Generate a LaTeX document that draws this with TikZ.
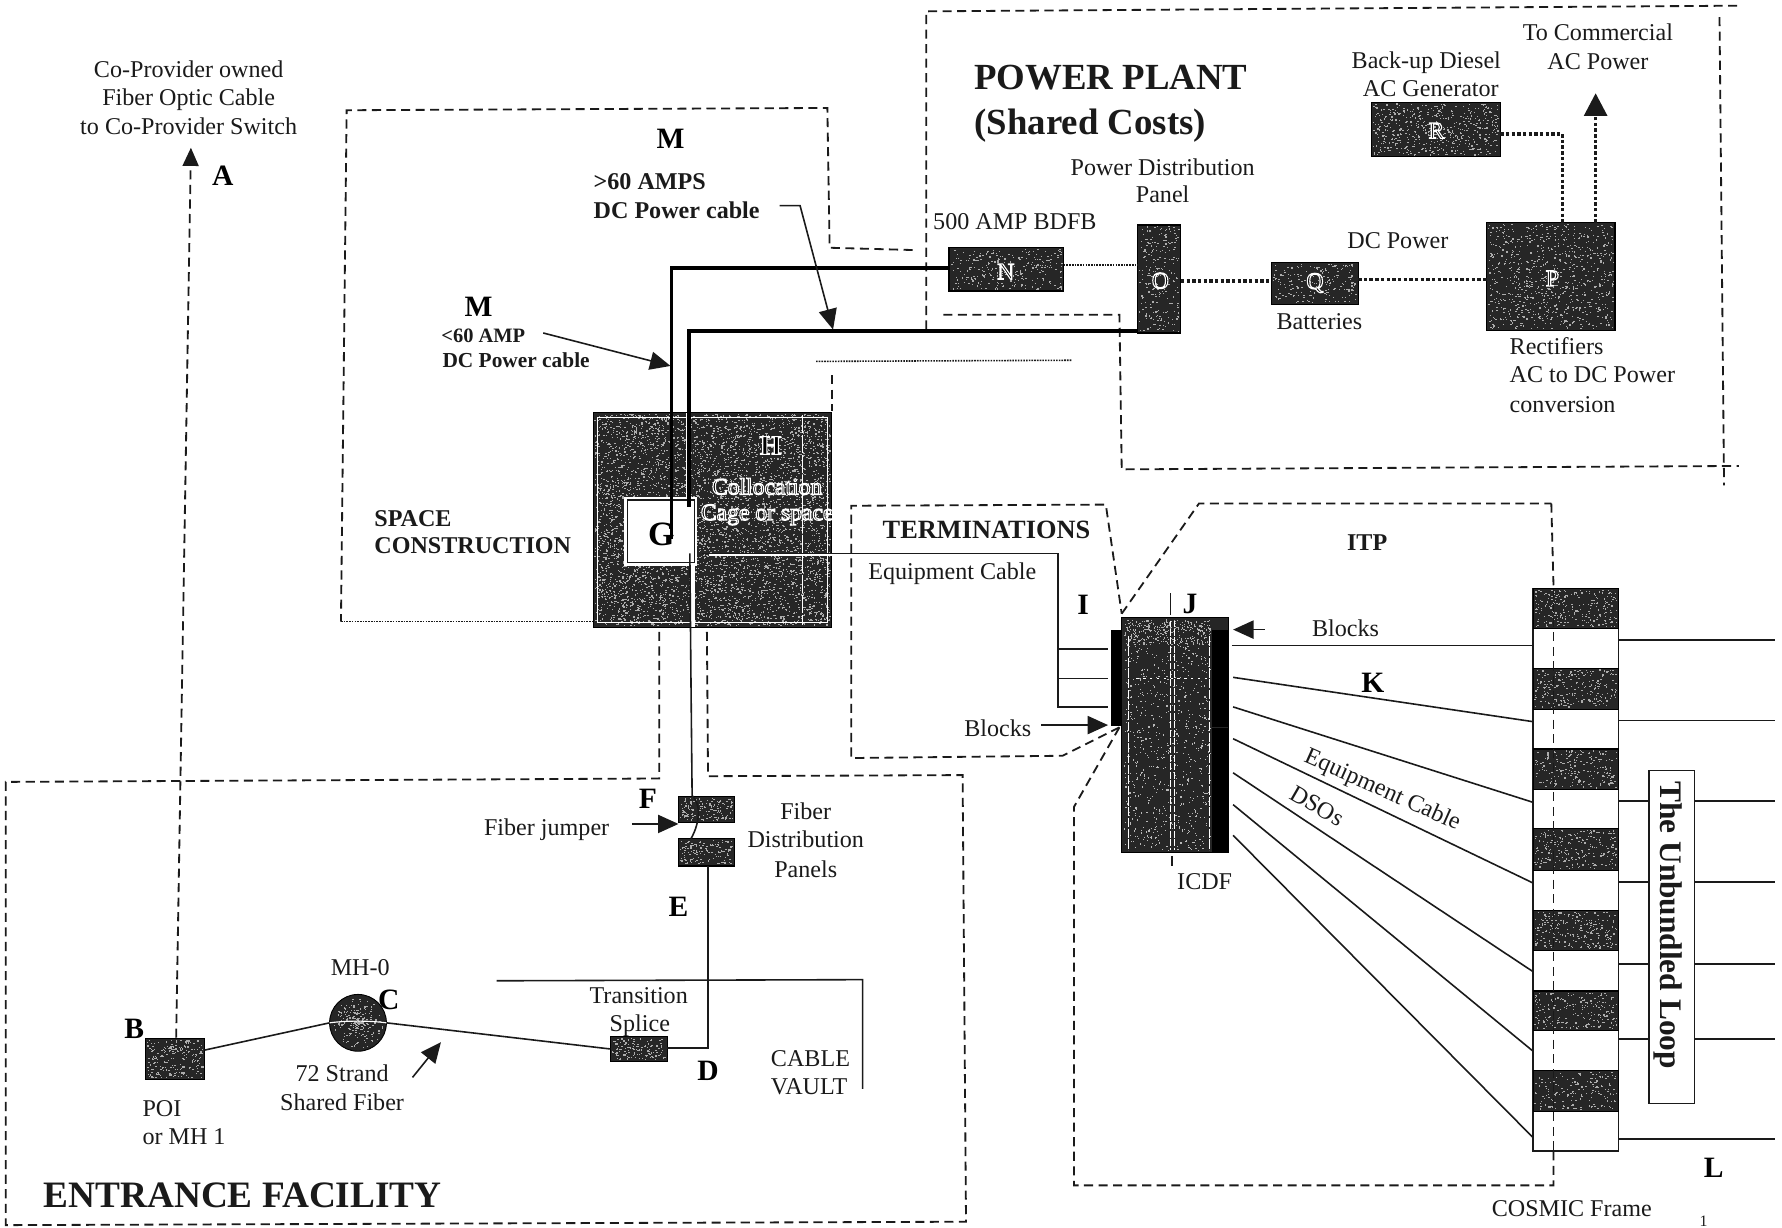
\documentclass[tikz,border=0pt]{standalone}
\usepackage{fontspec}
\setmainfont{Liberation Serif}
\usetikzlibrary{arrows.meta,calc}
\definecolor{ink}{HTML}{1A1A1A}
\definecolor{darkfill}{HTML}{262626}
\newcommand\halotxt[1]{\special{pdf:code q 2 Tr 0.5 w 1 1 1 RG}#1\special{pdf:code Q}}
% name, x0, y0, x1, y1, speck count
\newcommand\darkbox[6]{%
  \pgfmathsetmacro\bw{(#4-#2)*0.5}\pgfmathsetmacro\bh{(#5-#3)*0.5}%
  \node[dbox,minimum width=\bw pt,minimum height=\bh pt] (#1) at ({(#2+#4)/2},{(#3+#5)/2}) {};
  \foreach \i in {1,...,#6}{%
    \pgfmathsetmacro\sa{#2+1+rnd*(#4-#2-3)}\pgfmathsetmacro\sb{#3+1+rnd*(#5-#3-3)}%
    \fill[gray!65] (\sa,\sb) rectangle +(1.2,1.0);
  }%
}
\tikzset{
  dbox/.style={rectangle,draw=black,fill=darkfill,line width=0.5pt,inner sep=0pt,outer sep=0pt},
  wbox/.style={rectangle,draw=ink,fill=white,line width=0.7pt,inner sep=0pt,outer sep=0pt},
  dsh/.style={draw=ink,line width=0.8pt,dash pattern=on 4pt off 2.4pt},
  dot/.style={draw=ink,line width=0.7pt,dash pattern=on 0.7pt off 0.5pt},
  hdot/.style={draw=ink,line width=1.6pt,dash pattern=on 1.5pt off 1pt},
  thinl/.style={draw=ink,line width=0.7pt},
  cable/.style={draw=black,line width=1.6pt},
  arr/.style={draw=ink,line width=0.7pt,-{Triangle[length=9pt,width=8pt]}},
  lab/.style={font=\fontsize{10.6}{12}\selectfont,inner sep=0pt,text=ink,text height=0.82em,text depth=0.12em},
  bld/.style={font=\fontsize{10.6}{12}\selectfont\bfseries,inner sep=0pt,text=ink,text height=0.82em,text depth=0.12em},
  let/.style={font=\fontsize{13}{14}\selectfont\bfseries,inner sep=0pt,text=black},
  hal/.style={font=\fontsize{10.4}{12}\selectfont,inner sep=0pt,text=black},
}
\begin{document}
\begin{tikzpicture}[x=0.5pt,y=-0.5pt]
\useasboundingbox (0,0) rectangle (1568,1080);
\pgfmathsetseed{4242}
% ---- dashed regions ----
\draw[dsh] (815,290) -- (815,10) -- (1530,5);
\draw[dsh] (1513,15) -- (1517,427);
\draw[dsh] (830,277) -- (985,277) -- (987,413) -- (1530,410);
\draw[dsh] (803,220) -- (730,218) -- (728,95) -- (305,97) -- (300,547);
\draw[dot] (300,547) -- (522,547);
\draw[dot] (718,318) -- (943,317);
\draw[dsh] (732,330) -- (732,362);
\draw[dsh] (580,556) -- (580,685) -- (5,688) -- (5,1078) -- (850,1075) -- (847,682) -- (623,683) -- (622,556);
\draw[dsh] (985,640) -- (935,665) -- (749,667) -- (749,445) -- (973,444) -- (987,540);
\draw[dsh] (987,540) -- (1055,443) -- (1365,443);
\draw[dsh] (1365,443) -- (1367,518);
\draw[dsh] (1367,1013) -- (1367,1043) -- (945,1043) -- (945,710) -- (985,640);
% ---- dark boxes ----
\darkbox{H}{522}{363}{732}{552}{5000}
\darkbox{N}{835}{218}{936}{256}{260}
\darkbox{O}{1001}{198}{1039}{293}{240}
\darkbox{Q}{1119}{231}{1195}{268}{200}
\darkbox{P}{1308}{196}{1421}{291}{800}
\darkbox{R}{1207}{90}{1320}{138}{520}
\darkbox{FA}{597}{701}{646}{724}{140}
\darkbox{FB}{597}{738}{646}{762}{140}
\darkbox{TS}{537}{912}{587}{934}{130}
\darkbox{POI}{128}{914}{180}{950}{220}
\node[circle,draw=black,fill=darkfill,minimum size=25pt,inner sep=0pt,outer sep=0pt] (MH) at (315,900) {};
\foreach \i in {1,...,220}{\pgfmathsetmacro\sa{rnd*360}\pgfmathsetmacro\sb{rnd*22}\fill[gray!65] ($(315,900)+(\sa:\sb)$) rectangle +(1.2,1.0);}
% white streaks inside H
\draw[white,line width=0.5pt] (526,367) rectangle (728,548);
\draw[white,line width=0.6pt,dash pattern=on 8pt off 0.8pt] (706,365) -- (706,550);
\draw[white,line width=1.6pt] (605,363) -- (605,437);
\draw[white,line width=1.6pt] (610,498) -- (610,552);
\draw[white,line width=1.6pt] (624,488) -- (732,488);
\node[rectangle,fill=white,draw=white,line width=0.7pt,inner sep=0pt,outer sep=0pt,minimum width=31.5pt,minimum height=29.5pt] (G) at (581.5,467.5) {};
\draw[thinl,line width=0.5pt] ($(G.north west)+(2,2)$) rectangle ($(G.south east)+(-2,-2)$);
% ---- ICDF ----
\darkbox{ICM}{987}{543}{1081}{750}{0}
\foreach \i in {1,...,800}{\pgfmathsetmacro\sa{989+rnd*76}\pgfmathsetmacro\sb{545+rnd*203}\fill[gray!55] (\sa,\sb) rectangle +(1,1);}
\foreach \i in {1,...,250}{\pgfmathsetmacro\sa{989+rnd*76}\pgfmathsetmacro\sb{545+rnd*22}\fill[gray!65] (\sa,\sb) rectangle +(1,1);}
\draw[white,line width=0.4pt,dash pattern=on 3pt off 0.7pt] (1030,546) -- (1030,748);
\draw[white,line width=0.4pt,dash pattern=on 3pt off 0.7pt] (1033,546) -- (1033,748);
\draw[white,line width=0.4pt,dash pattern=on 4pt off 0.7pt] (993,560) -- (993,748);
\draw[white,line width=0.4pt,dash pattern=on 4pt off 0.7pt] (1064,560) -- (1064,748);
\draw[white,line width=0.4pt,dash pattern=on 1pt off 2pt] (1000,597) -- (1063,597);
\node[rectangle,fill=black,minimum width=4.8pt,minimum height=42.5pt,inner sep=0pt,outer sep=0pt] (ICL) at (982.5,596.5) {};
\node[rectangle,fill=black,minimum width=7.5pt,minimum height=43pt,inner sep=0pt,outer sep=0pt] (ICR) at (1073.5,597) {};
\node[rectangle,fill=black,minimum width=7.5pt,minimum height=54.5pt,inner sep=0pt,outer sep=0pt] (ICS) at (1073.5,695.5) {};
\coordinate (tka) at (1030,522);\coordinate (tkb) at (1030,541);\draw[thinl] (tka) -- (tkb);
\coordinate (tkc) at (1031,753);\coordinate (tkd) at (1031,762);\draw[thinl] (tkc) -- (tkd);
% ---- COSMIC frame ----
\node[wbox,minimum width=37.5pt,minimum height=247.5pt] (CF) at (1386.5,765.5) {};
\darkbox{CA}{1349}{518}{1424}{553}{230}
\darkbox{CB}{1349}{588}{1424}{624}{230}
\darkbox{CC}{1349}{659}{1424}{695}{200}
\darkbox{CD}{1349}{729}{1424}{766}{230}
\darkbox{CE}{1349}{801}{1424}{836}{230}
\darkbox{CG}{1349}{872}{1424}{907}{200}
\darkbox{CH}{1349}{942}{1424}{978}{170}
\draw[dsh] (1367,518) -- (1367,1013);
% lines to frame
\coordinate (ra) at (1084,568);\coordinate (rb) at (1085,596);\coordinate (rc) at (1085,622);\coordinate (rd) at (1085,650);\coordinate (re) at (1085,680);\coordinate (rf) at (1085,708);\coordinate (rg) at (1085,735);
\draw[thinl] (ra) -- (CF.west |- 0,568);
\draw[thinl] (rb) -- (CF.west |- 0,635);
\draw[thinl] (rc) -- (CF.west |- 0,706);
\draw[thinl] (rd) -- (CF.west |- 0,777);
\draw[thinl] (re) -- (CF.west |- 0,855);
\draw[thinl] (rf) -- (CF.west |- 0,925);
\draw[thinl] (rg) -- (CF.west |- 0,1001);
\coordinate (ea) at (1562,563);\coordinate (eb) at (1562,634);\coordinate (ec) at (1562,705);\coordinate (ed) at (1562,776);\coordinate (ee) at (1562,848);\coordinate (ef) at (1562,914);\coordinate (eg) at (1562,1002);
\draw[thinl] (CF.east |- ea) -- (ea);
\draw[thinl] (CF.east |- eb) -- (eb);
\draw[thinl] (CF.east |- ec) -- (ec);
\draw[thinl] (CF.east |- ed) -- (ed);
\draw[thinl] (CF.east |- ee) -- (ee);
\draw[thinl] (CF.east |- ef) -- (ef);
\draw[thinl] (CF.east |- eg) -- (eg);
% Unbundled loop box
\node[wbox,minimum width=20pt,minimum height=146.5pt] (UL) at (1471,824.5) {};
% ---- connectors ----
\coordinate (aend) at (168,130);
\draw[dsh,-{Triangle[length=8pt,width=7pt]}] (155,913) -- (aend);
\draw[hdot] (O.east |- 0,247) -- (Q.west |- 0,247);
\draw[hdot] (Q.east |- 0,246) -- (P.west |- 0,246);
\draw[dot] (N.east |- 0,233) -- (O.west |- 0,233);
\coordinate (rp) at (1375,118);
\draw[hdot] (R.east |- rp) -- (rp) -- (rp |- P.north);
\coordinate (comm) at (1404,82);
\draw[hdot,-{Triangle[length=10pt,width=10pt]}] (comm |- P.north) -- (comm);
\coordinate (gg) at (591,474);\coordinate (kb) at (591,236);
\draw[cable] (N.west |- kb) -- (kb) -- (gg);
\coordinate (gh) at (606,446);\coordinate (kc) at (606,291);
\draw[cable] (O.west |- kc) -- (kc) -- (gh);
\coordinate (gs) at (607,487);
\draw[thinl] (gs) -- (608,600) -- (609,700) .. controls (616,706) and (617,722) .. (608,738);
\coordinate (fe) at (623,922);
\draw[thinl] (FB.south -| fe) -- (fe) -- (TS.east |- fe);
\draw[thinl] (POI.east |- 0,924) -- (MH.west);
\draw[thinl] (MH.east) -- (TS.west);
\draw[white,line width=0.5pt] (MH.west) .. controls (305,898) and (325,898) .. (MH.east);
\coordinate (va) at (437,863);\coordinate (vb) at (759,862);\coordinate (vc) at (759,958);
\draw[thinl] (va) -- (vb) -- (vc);
\coordinate (ge) at (618,487);\coordinate (jj) at (931,487);\coordinate (jc) at (931,622);\coordinate (sa) at (931,571);\coordinate (sb) at (931,597);\coordinate (sc) at (975,622);
\draw[thinl] (ge) -- (jj) -- (jc) -- (sc);
\draw[thinl] (sa) -- (975,571);
\draw[thinl] (sb) -- (975,597);
% pointer arrows
\coordinate (pa) at (686,181);\coordinate (pb) at (704,181);\coordinate (pc) at (733,290);
\draw[arr] (pa) -- (pb) -- (pc);
\coordinate (qa) at (478,293);\coordinate (qb) at (590,322);
\draw[arr] (qa) -- (qb);
\coordinate (ja) at (556,725);
\draw[arr] (ja) -- (FA.west |- ja);
\coordinate (ba) at (916,638);
\draw[arr] (ba) -- (975,638);
\coordinate (bb) at (1113,554);
\draw[arr] (bb) -- (1085,554);
\coordinate (sfa) at (363,948);\coordinate (sfb) at (388,917);
\draw[arr] (sfa) -- (sfb);
% ---- text ----
\node[lab] (a1) at (166,61) {Co-Provider owned};
\node[lab] (a2) at (166,86) {Fiber Optic Cable};
\node[lab] (a3) at (166,111) {to Co-Provider Switch};
\node[let] (lA) at (196,155) {A};
\node[let] (lM) at (590,122) {M};
\node[bld,anchor=west] (m1) at (522,160) {>60 AMPS};
\node[bld,anchor=west] (m2) at (522,185) {DC Power cable};
\node[let] (lM2) at (421,270) {M};
\node[bld,anchor=west,font=\fontsize{9}{10}\selectfont\bfseries] (m3) at (388,294) {<60 AMP};
\node[bld,anchor=west,font=\fontsize{9.4}{10}\selectfont\bfseries] (m4) at (389,316) {DC Power cable};
\node[bld,anchor=west] (s1) at (329,456) {SPACE};
\node[bld,anchor=west] (s2) at (329,480) {CONSTRUCTION};
\node[let,font=\fontsize{15}{16}\selectfont\bfseries] (lG) at (582,470) {G};
\node[hal,font=\fontsize{12}{13}\selectfont\bfseries] (lH) at (678,392) {\halotxt{H}};
\node[hal] (h1) at (675,428) {\halotxt{Collocation}};
\node[hal] (h2) at (675,453) {\halotxt{Cage or space}};
\node[hal] (lN) at (885,239) {\halotxt{N}};
\node[hal] (lO) at (1021,247) {\halotxt{O}};
\node[hal] (lQ) at (1157,249) {\halotxt{Q}};
\node[hal] (lP) at (1366,245) {\halotxt{P}};
\node[hal] (lR) at (1264,115) {\halotxt{R}};
\node[bld,anchor=west,font=\fontsize{16.2}{17}\selectfont\bfseries] (pp1) at (857,71.5) {POWER PLANT};
\node[bld,anchor=west,font=\fontsize{16.2}{17}\selectfont\bfseries] (pp2) at (857,111.5) {(Shared Costs)};
\node[lab] (d1) at (1255,53) {Back-up Diesel};
\node[lab] (d2) at (1259,78) {AC Generator};
\node[lab] (c1) at (1406,29) {To Commercial};
\node[lab] (c2) at (1406,54) {AC Power};
\node[lab] (pd1) at (1023,147) {Power Distribution};
\node[lab] (pd2) at (1023,171) {Panel};
\node[lab] (amp) at (893,195) {500 AMP BDFB};
\node[lab] (dcp) at (1230,212) {DC Power};
\node[lab] (bat) at (1161,283) {Batteries};
\node[lab,anchor=west] (r1) at (1328,305) {Rectifiers};
\node[lab,anchor=west] (r2) at (1328,330) {AC to DC Power};
\node[lab,anchor=west] (r3) at (1328,356) {conversion};
\node[bld,font=\fontsize{11.6}{13}\selectfont\bfseries] (term) at (868,467) {TERMINATIONS};
\node[lab] (eqc) at (838,503) {Equipment Cable};
\node[let] (lI) at (953,532) {I};
\node[let] (lJ) at (1047,531) {J};
\node[bld] (itp) at (1203,477) {ITP};
\node[lab] (bl1) at (1184,553) {Blocks};
\node[lab] (bl2) at (878,641) {Blocks};
\node[let] (lK) at (1208,601) {K};
\node[lab,rotate=-24] (eqr) at (1217,694) {Equipment Cable};
\node[lab,rotate=-30] (dso) at (1159,709) {DSOs};
\node[lab] (icdf) at (1060,776) {ICDF};
\node[bld,rotate=-90,font=\fontsize{13.8}{15}\selectfont\bfseries] (loop) at (1468,814) {The Unbundled Loop};
\node[let] (lL) at (1508,1028) {L};
\node[lab] (cos) at (1383,1063) {COSMIC Frame};
\node[lab,font=\fontsize{7}{8}\selectfont] (one) at (1499,1072) {1};
\node[lab] (fj) at (481,728) {Fiber jumper};
\node[let] (lF) at (570,703) {F};
\node[lab] (f1) at (709,714) {Fiber};
\node[lab] (f2) at (709,739) {Distribution};
\node[lab] (f3) at (709,765) {Panels};
\node[let] (lE) at (597,798) {E};
\node[lab] (mh) at (317,851) {MH-0};
\node[let] (lC) at (342,880) {C};
\node[let] (lB) at (118,905) {B};
\node[lab] (st1) at (301,945) {72 Strand};
\node[lab] (st2) at (301,970) {Shared Fiber};
\node[lab,anchor=west] (po1) at (125,975) {POI};
\node[lab,anchor=west] (po2) at (125,1000) {or MH 1};
\node[lab] (tr1) at (562,876) {Transition};
\node[lab] (tr2) at (563,901) {Splice};
\node[let] (lD) at (623,942) {D};
\node[lab,anchor=west] (cv1) at (678,931) {CABLE};
\node[lab,anchor=west] (cv2) at (678,956) {VAULT};
\node[bld,anchor=west,font=\fontsize{16.4}{18}\selectfont\bfseries] (efl) at (38,1055.5) {ENTRANCE FACILITY};
\end{tikzpicture}
\end{document}
